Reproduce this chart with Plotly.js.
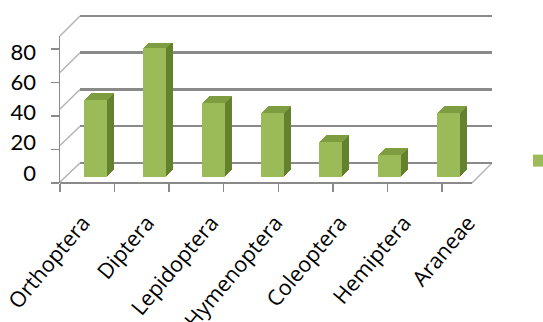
<!DOCTYPE html>
<html>
<head>
<meta charset="utf-8">
<script src="https://cdn.plot.ly/plotly-3.0.1.min.js"></script>
<style>html,body{margin:0;padding:0;background:#fff;}#chart{width:543px;height:322px;}</style>
</head>
<body>
<div id="chart"></div>
<script>
// ---- data ----
const categories = ['Orthoptera', 'Diptera', 'Lepidoptera', 'Hymenoptera', 'Coleoptera', 'Hemiptera', 'Araneae'];
const values = [46, 77, 44, 38, 21, 13, 38];
const yTicks = [0, 20, 40, 60, 80];
const seriesName = '';

// ---- geometry helpers (pixel -> paper) ----
const W = 543, H = 322;
const fx = x => x / W;
const fy = y => 1 - y / H;

const FRONT = '#9BBB59', TOP = '#7E9C40', SIDE = '#64812D';
const GRID = '#8a8a8a', WALL = '#b4b4b4';

const catPx = 58.83;           // px per category on bar axis
const pxPerUnit = 1.675;       // px per value unit on bar axis
const faceW = 23 / catPx;      // bar face width (category units)
const dx = 1 / catPx, dy = 1 / pxPerUnit;
const depth = 7;

const traces = [];
// back-wall grid subplot (x / y)
traces.push({type: 'scatter', x: [], y: [], xaxis: 'x', yaxis: 'y', showlegend: false, hoverinfo: 'skip'});
// 3D side faces
for (let k = 1; k <= depth; k++) {
  traces.push({
    type: 'bar', x: categories, y: values, base: k * dy,
    offset: -faceW / 2 + k * dx, width: faceW,
    marker: {color: SIDE, line: {width: 0}},
    xaxis: 'x2', yaxis: 'y2', showlegend: false, hoverinfo: 'skip'
  });
}
// 3D top faces
for (let k = 1; k <= depth; k++) {
  traces.push({
    type: 'bar', x: categories, y: values.map(() => dy * 1.2),
    base: values.map(v => v + (k - 1) * dy),
    offset: -faceW / 2 + k * dx, width: faceW,
    marker: {color: TOP, line: {width: 0}},
    xaxis: 'x2', yaxis: 'y2', showlegend: false, hoverinfo: 'skip'
  });
}
// front faces
traces.push({
  type: 'bar', x: categories, y: values, name: seriesName,
  offset: -faceW / 2, width: faceW,
  marker: {color: FRONT, line: {width: 0}},
  xaxis: 'x2', yaxis: 'y2', showlegend: true
});
// front axis, labels subplots
traces.push({type: 'scatter', x: [], y: [], xaxis: 'x3', yaxis: 'y3', showlegend: false, hoverinfo: 'skip'});
traces.push({type: 'scatter', x: [], y: [], xaxis: 'x4', yaxis: 'y4', showlegend: false, hoverinfo: 'skip'});
traces.push({type: 'scatter', x: [], y: [], xaxis: 'x5', yaxis: 'y5', showlegend: false, hoverinfo: 'skip'});

const hidden = {showgrid: false, zeroline: false, showline: false, ticks: '', showticklabels: false, fixedrange: true};

// wall / floor decoration
const shapes = [];
const line = (x0, y0, x1, y1, color, width) => ({type: 'line', xref: 'paper', yref: 'paper',
  x0: fx(x0), y0: fy(y0), x1: fx(x1), y1: fy(y1), line: {color: color, width: width}, layer: 'below'});
yTicks.forEach((t, i) => {
  shapes.push(line(60, 182 - 36.5 * i, 80, 163 - 36.75 * i, WALL, 1.5));
});
shapes.push(line(60, 183, 472, 183, GRID, 2));
shapes.push(line(472, 183, 492, 163, WALL, 1.5));

// back wall: 0 at y=163px, 80 at y=16px; pad the range so edge gridlines are kept
const wallPxPerUnit = (163 - 16) / 80;
const padU = 3;

const layout = {
  width: W, height: H,
  margin: {l: 0, r: 0, t: 0, b: 0, pad: 0, autoexpand: false},
  paper_bgcolor: '#ffffff', plot_bgcolor: 'rgba(0,0,0,0)',
  barmode: 'overlay', bargap: 0,
  showlegend: true,
  legend: {x: fx(519), y: fy(161), xanchor: 'left', yanchor: 'middle', bgcolor: 'rgba(0,0,0,0)',
    font: {family: 'Lato', size: 14, color: '#000'}},
  font: {family: 'Lato', color: '#000'},
  // back wall gridlines
  xaxis: Object.assign({}, hidden, {domain: [fx(80), fx(492)], range: [0, 1], anchor: 'y'}),
  yaxis: Object.assign({}, hidden, {
    domain: [fy(163 + padU * wallPxPerUnit), fy(16 - padU * wallPxPerUnit)],
    range: [-padU, 80 + padU], anchor: 'x',
    showgrid: true, gridcolor: GRID, gridwidth: 2.5, tickvals: yTicks}),
  // bars
  xaxis2: Object.assign({}, hidden, {domain: [fx(66.08), fx(477.92)], range: [-0.5, categories.length - 0.5],
    type: 'category', anchor: 'y2'}),
  yaxis2: Object.assign({}, hidden, {domain: [fy(177), fy(43)], range: [0, 80], anchor: 'x2'}),
  // front axis with tick marks
  xaxis3: Object.assign({}, hidden, {domain: [fx(60), fx(442)], range: [0, categories.length], anchor: 'y3',
    ticks: 'outside', ticklen: 8, tickwidth: 1.5, tickcolor: GRID,
    tickvals: categories.map((c, i) => i).concat([categories.length])}),
  yaxis3: Object.assign({}, hidden, {domain: [fy(183), fy(36)], range: [0, 87.76], anchor: 'x3',
    showline: true, linecolor: GRID, linewidth: 1.5,
    ticks: 'outside', ticklen: 8, tickwidth: 1.5, tickcolor: GRID, tickvals: yTicks}),
  // value labels
  xaxis4: Object.assign({}, hidden, {domain: [fx(60), fx(300)], range: [0, 1], anchor: 'y4'}),
  yaxis4: Object.assign({}, hidden, {domain: [fy(173), fy(52)], range: [0, 80], anchor: 'x4',
    showticklabels: true, tickvals: yTicks, ticklabelstandoff: 23, ticklabeloverflow: 'allow',
    tickfont: {family: 'Lato', size: 22, color: '#000'}}),
  // category labels
  xaxis5: Object.assign({}, hidden, {domain: [fx(50.9), fx(500.1)], range: [-0.5, categories.length - 0.5],
    anchor: 'y5', showticklabels: true, tickangle: -50, ticklabeloverflow: 'allow',
    tickvals: categories.map((c, i) => i), ticktext: categories,
    tickfont: {family: 'Open Sans', size: 21.5, color: '#000'}}),
  yaxis5: Object.assign({}, hidden, {domain: [fy(205), fy(120)], range: [0, 1], anchor: 'x5'}),
  shapes: shapes
};

Plotly.newPlot('chart', traces, layout, {staticPlot: true, displayModeBar: false});
</script>
</body>
</html>
